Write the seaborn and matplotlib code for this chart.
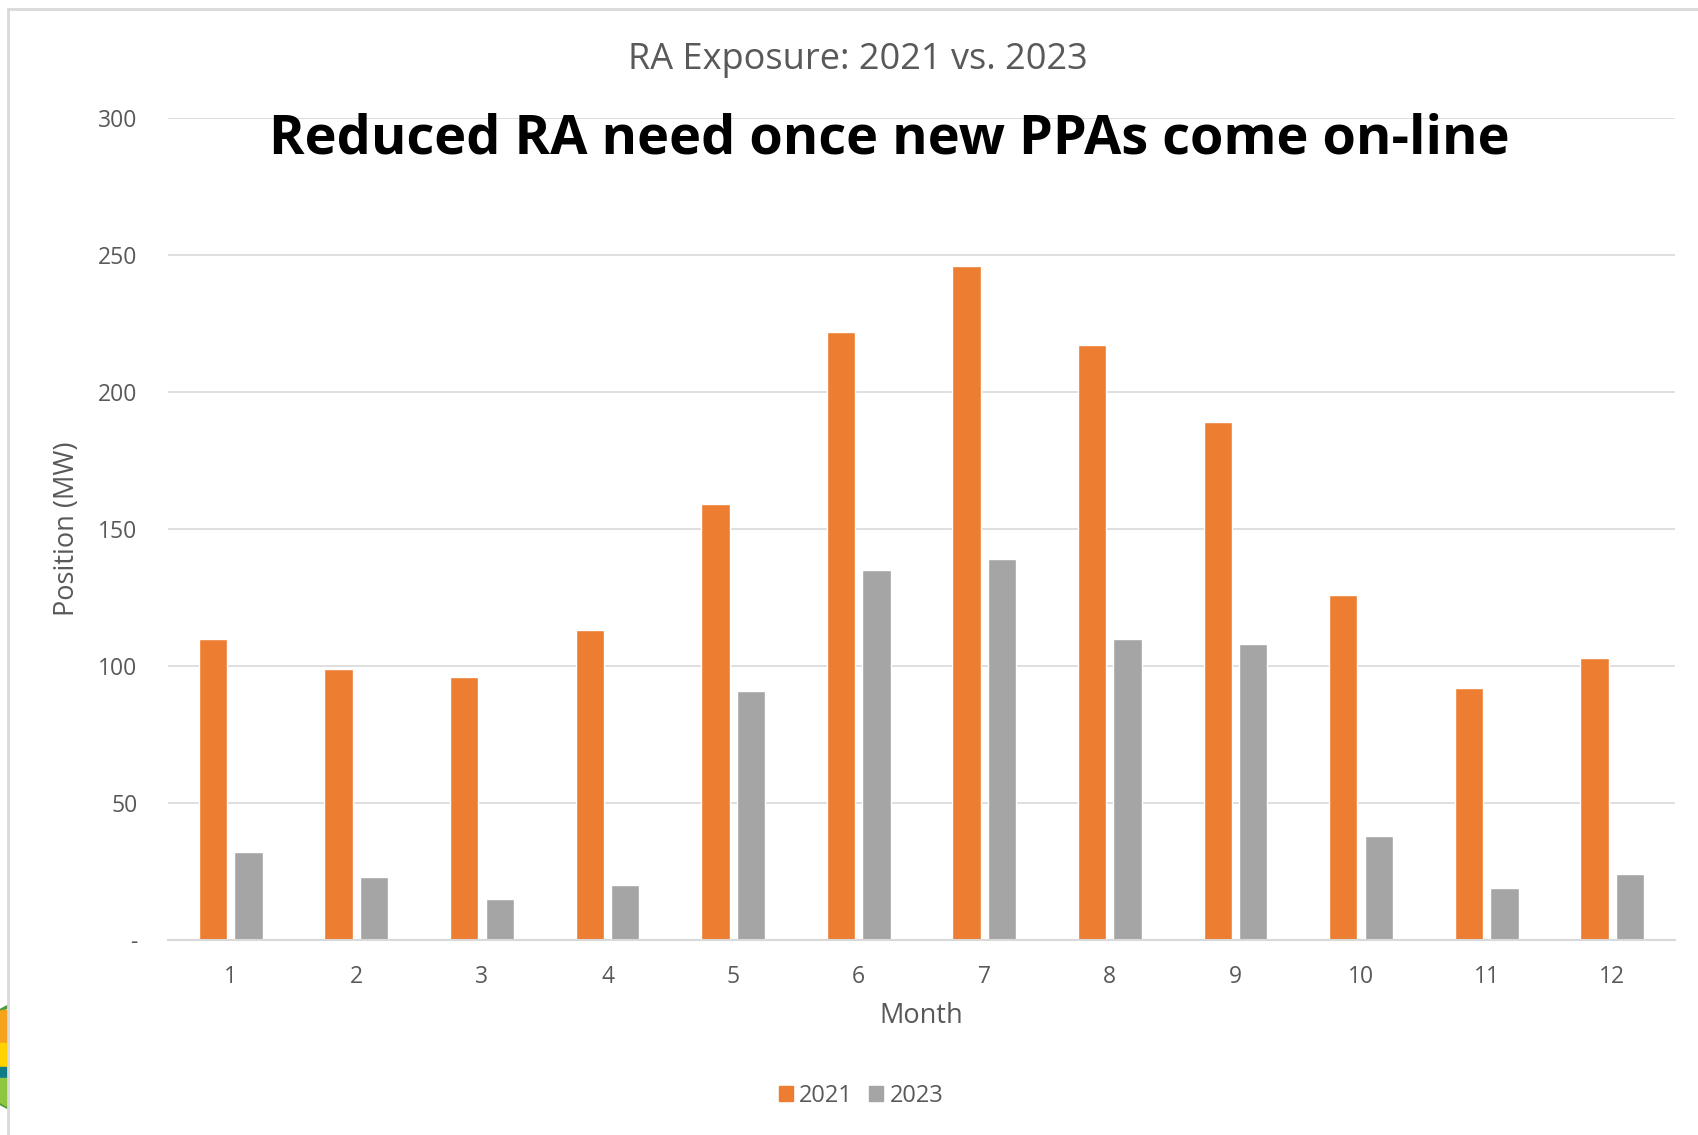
import pandas as pd
import numpy as np
import matplotlib.pyplot as plt
import seaborn as sns
from matplotlib.patches import Rectangle, Circle

## data

months = [1, 2, 3, 4, 5, 6, 7, 8, 9, 10, 11, 12]
pos_2021 = [110, 99, 96, 113, 159, 222, 246, 217, 189, 126, 92, 103]
pos_2023 = [32, 23, 15, 20, 91, 135, 139, 110, 108, 38, 19, 24]
years = ["2021", "2023"]
colors = ["#ED7D31", "#A5A5A5"]
ytick_vals = [0, 50, 100, 150, 200, 250, 300]
ytick_labels = ["-", "50", "100", "150", "200", "250", "300"]

df = pd.DataFrame({
    "Month": months * 2,
    "Position": pos_2021 + pos_2023,
    "Year": [years[0]] * 12 + [years[1]] * 12,
})

sns.set_theme(style="white")
plt.rcParams["font.family"] = ["Open Sans", "DejaVu Sans"]

txt_gray = "#595959"
W, H = 1698, 1135

fig = plt.figure(figsize=(16.98, 11.35), dpi=100)
ax = fig.add_axes([168 / W, 1 - 940 / H, (1675 - 168) / W, (940 - 118) / H])

sns.barplot(data=df, x="Month", y="Position", hue="Year", palette=colors,
            width=0.565, gap=0.2, ax=ax, legend=False, saturation=1)

ax.set_ylim(0, 300)
ax.set_xlim(-0.5, 11.5)
ax.set_yticks(ytick_vals)
ax.set_yticklabels(ytick_labels)
ax.yaxis.grid(True, color="#D9D9D9", lw=1.2)
ax.set_axisbelow(True)
for s in ["top", "right", "left"]:
    ax.spines[s].set_visible(False)
ax.spines["bottom"].set_color("#D9D9D9")
ax.spines["bottom"].set_linewidth(1.5)
ax.tick_params(axis="y", length=0, pad=22, labelsize=16.5, labelcolor=txt_gray)
ax.tick_params(axis="x", length=0, pad=18, labelsize=16.5, labelcolor=txt_gray)

ax.set_xlabel("Month", fontsize=19.5, color=txt_gray, va="center")
ax.xaxis.set_label_coords(0.5, (940 - 1016) / 822)
ax.set_ylabel("Position (MW)", fontsize=19.5, color=txt_gray, va="center")
ax.yaxis.set_label_coords((67 - 168) / 1507, 0.5)

# chart titles
fig.text(858 / W, 1 - 60 / H, "RA Exposure: 2021 vs. 2023",
         ha="center", va="center", fontsize=26, color=txt_gray)
fig.text(889 / W, 1 - 139 / H, "Reduced RA need once new PPAs come on-line",
         ha="center", va="center", fontsize=39, fontweight="bold", color="black")

# legend
handles = [Rectangle((0, 0), 1, 1, color=c) for c in colors]
fig.legend(handles, years, loc="center", bbox_to_anchor=(861 / W, 1 - 1096 / H),
           ncol=2, frameon=False, fontsize=17, handlelength=0.6, handleheight=0.6,
           handletextpad=0.25, columnspacing=0.7, labelcolor=txt_gray)

# sliver of a logo peeking out behind the chart at bottom left
lg = fig.add_axes([-30 / W, 20 / H, 38 / W, 115 / H])
lg.set_xlim(-30, 8)
lg.set_ylim(20, 135)
lg.axis("off")
disc = Circle((30, 78), 55, facecolor="white", edgecolor="#4E9A3A", lw=2.5)
lg.add_patch(disc)
for y0, y1, c in [(92, 125, "#F7A21B"), (68, 92, "#FFD200"),
                  (58, 68, "#0E7C86"), (20, 57, "#8DC63F")]:
    band = Rectangle((-30, y0), 40, y1 - y0, color=c)
    lg.add_patch(band)
    band.set_clip_path(disc)

# chart border (only left and top visible)
fig.patches.append(Rectangle((8 / W, -0.1), 1.2, 1.1 - 9 / H,
                             transform=fig.transFigure, fill=False,
                             edgecolor="#D9D9D9", lw=2))

fig.savefig("out.png", dpi=100)
